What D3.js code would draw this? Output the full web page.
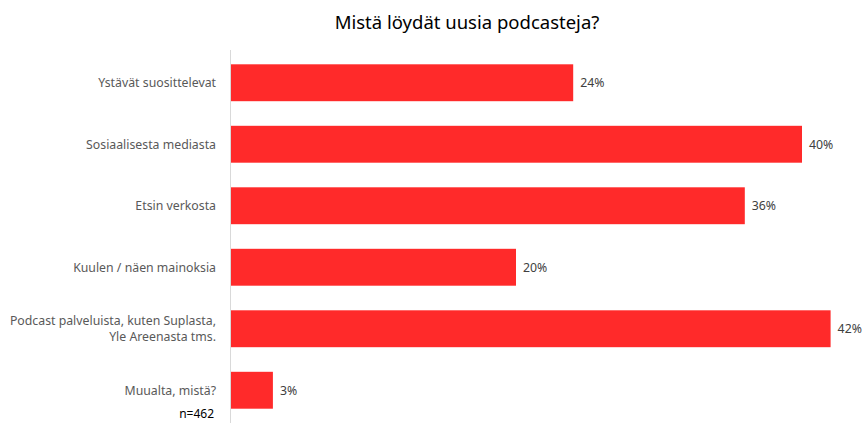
<!DOCTYPE html>
<html>
<head>
<meta charset="utf-8">
<script src="https://cdn.jsdelivr.net/npm/d3@7"></script>
<style>
  html, body { margin: 0; padding: 0; background: #fff; }
  svg { display: block; }
</style>
</head>
<body>
<script>
// Survey answers: where respondents find new podcasts
const categories = [
  ["Ystävät suosittelevat"],
  ["Sosiaalisesta mediasta"],
  ["Etsin verkosta"],
  ["Kuulen / näen mainoksia"],
  ["Podcast palveluista, kuten Suplasta,", "Yle Areenasta tms."],
  ["Muualta, mistä?"]
];
const values = [24, 40, 36, 20, 42, 3];
const title = "Mistä löydät uusia podcasteja?";
const sampleNote = "n=462";

const W = 864, H = 423;
const svg = d3.select("body").append("svg").attr("width", W).attr("height", H);

const font = "'Noto Sans', 'Open Sans', sans-serif";
const idx = d3.range(values.length);

const x = d3.scaleLinear().domain([0, 45]).range([230, 230 + 14.3 * 45]);
const y = d3.scaleBand().domain(idx).range([52, 421]).paddingInner(0.4).paddingOuter(0.2);

// Title
svg.append("text")
  .attr("x", 467).attr("y", 29)
  .attr("text-anchor", "middle")
  .attr("font-family", font).attr("font-size", 18.5)
  .attr("fill", "#000")
  .text(title);

// Bars
svg.selectAll("rect.bar").data(idx).join("rect")
  .attr("class", "bar")
  .attr("x", x(0))
  .attr("y", i => y(i))
  .attr("width", i => x(values[i]) - x(0))
  .attr("height", y.bandwidth())
  .attr("fill", "#ff2a2a");

// Vertical category axis line
svg.append("line")
  .attr("x1", x(0) + 0.5).attr("x2", x(0) + 0.5)
  .attr("y1", 50).attr("y2", H)
  .attr("stroke", "#d9d9d9").attr("stroke-width", 1);

// Category labels
const cat = svg.selectAll("text.cat").data(idx).join("text")
  .attr("class", "cat")
  .attr("text-anchor", "end")
  .attr("font-family", font).attr("font-size", 12.3)
  .attr("fill", "#595959")
  .attr("y", i => y(i) + y.bandwidth() / 2);
cat.each(function(i) {
  const lines = categories[i];
  const lh = 16;
  const t = d3.select(this);
  lines.forEach((s, k) => {
    t.append("tspan")
      .attr("x", 216)
      .attr("dy", k === 0 ? (-(lines.length - 1) * lh / 2 + 4.5) : lh)
      .text(s);
  });
});

// Value labels
svg.selectAll("text.val").data(idx).join("text")
  .attr("class", "val")
  .attr("x", i => x(values[i]) + 7)
  .attr("y", i => y(i) + y.bandwidth() / 2 + 4.5)
  .attr("font-family", font).attr("font-size", 12.3)
  .attr("fill", "#404040")
  .text(i => values[i] + "%");

// Sample size
svg.append("text")
  .attr("x", 214).attr("y", 418)
  .attr("text-anchor", "end")
  .attr("font-family", font).attr("font-size", 12)
  .attr("fill", "#000")
  .text(sampleNote);
</script>
</body>
</html>
